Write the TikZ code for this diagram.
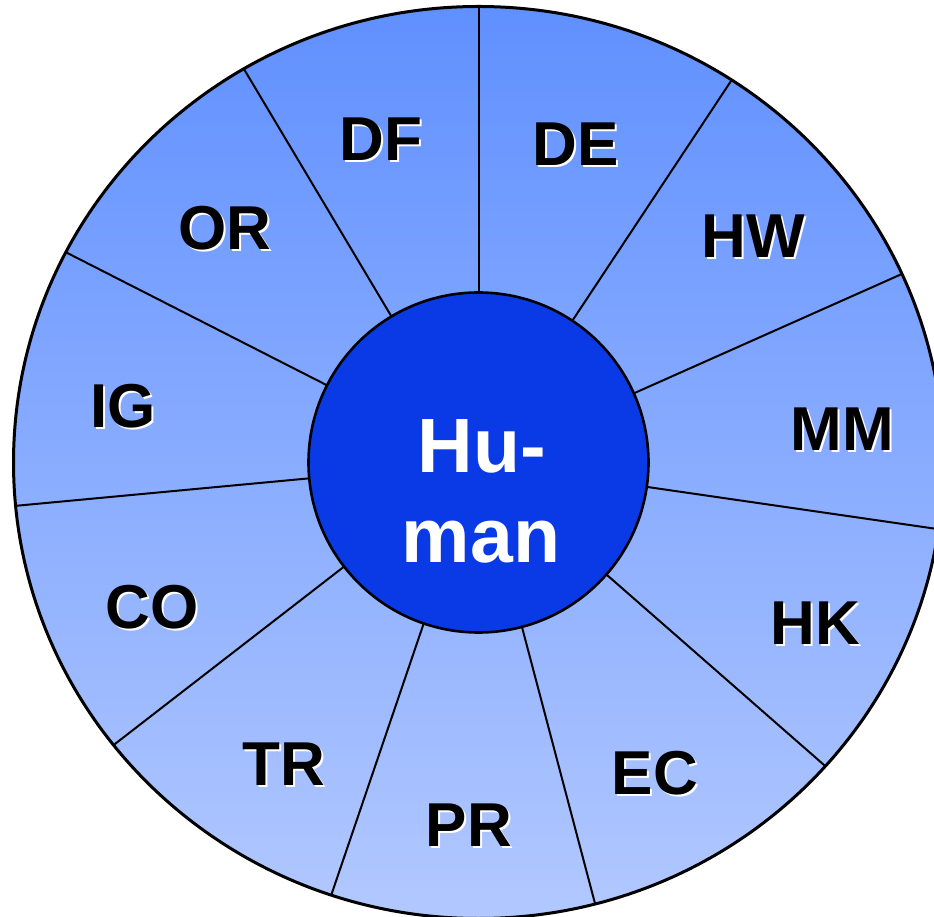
\documentclass[tikz,border=0pt]{standalone}
\usepackage{fontspec}
\setmainfont{Liberation Sans}
\definecolor{topblue}{RGB}{96,144,255}
\definecolor{botblue}{RGB}{178,200,255}
\definecolor{hubblue}{RGB}{10,58,230}
\newcommand{\shtxt}[1]{\rlap{\hspace{2pt}\raisebox{-2pt}{\color{white}#1}}#1}
\begin{document}
\begin{tikzpicture}[x=1pt,y=1pt,
  lbl/.style={anchor=base, inner sep=0pt, text=black, font=\fontsize{62}{70}\selectfont\bfseries},
  hubtxt/.style={anchor=base, inner sep=0pt, text=white, font=\fontsize{77}{90}\selectfont\bfseries},
  spoke/.style={line width=2pt, draw=black},
  rim/.style={line width=3pt, draw=black}]
\useasboundingbox (0,0) rectangle (934,916);
\coordinate (c) at (478.5,453.5);
\begin{scope}
  \clip (0,0) rectangle (934,916);
  \shade[top color=topblue, bottom color=botblue] (c) ellipse [x radius=465, y radius=456];
  \begin{scope}
    \clip (c) ellipse [x radius=465, y radius=456];
    \foreach \a in {90,120.8,153.0,185.35,217.75,251.2,284.8,318.8,351.75,24.0,56.5}
      \draw[spoke] (c) -- ++(\a:520);
  \end{scope}
  \draw[rim] (c) ellipse [x radius=465, y radius=456];
\end{scope}
\node[circle, fill=hubblue, draw=black, line width=2.6pt, minimum size=340pt, inner sep=0pt] (hub) at (c) {};
\node[hubtxt] (hu) at (482,443) {Hu-};
\node[hubtxt] (man) at (481,353) {man};
\node[lbl] (DF) at (381,755) {\shtxt{DF}};
\node[lbl] (DE) at (576,750) {\shtxt{DE}};
\node[lbl] (HW) at (753,658) {\shtxt{HW}};
\node[lbl] (OR) at (225,666) {\shtxt{OR}};
\node[lbl] (IG) at (123,488) {\shtxt{IG}};
\node[lbl] (MM) at (842,465) {\shtxt{MM}};
\node[lbl] (CO) at (152,287) {\shtxt{CO}};
\node[lbl] (HK) at (815,271) {\shtxt{HK}};
\node[lbl] (TR) at (284,131) {\shtxt{TR}};
\node[lbl] (EC) at (655,122) {\shtxt{EC}};
\node[lbl] (PR) at (469,70) {\shtxt{PR}};
\end{tikzpicture}
\end{document}
